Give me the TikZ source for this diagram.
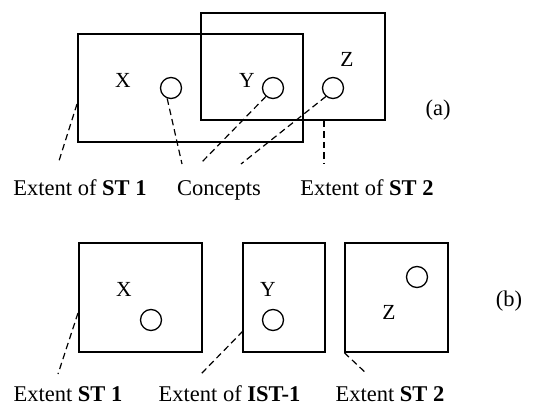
\documentclass[tikz,border=0pt]{standalone}
\usepackage{fontspec}
\setmainfont{Liberation Serif}
\begin{document}
\begin{tikzpicture}[x=1pt,y=-1pt,
  box/.style={draw,line width=1.4pt,inner sep=0pt},
  conc/.style={draw,circle,line width=1.3pt,minimum size=21pt,inner sep=0pt},
  lett/.style={font=\fontsize{21.5}{24}\selectfont,inner sep=0pt},
  lab/.style={font=\fontsize{22.5}{26}\selectfont,anchor=base,inner sep=0pt},
  dsh/.style={line width=1.2pt,dash pattern=on 6.5pt off 4pt}]
\useasboundingbox (0,0) rectangle (551,406);
% ---- (a) ----
\node[box,minimum width=225pt,minimum height=108pt] (st1) at (190.5,88) {};
\node[box,minimum width=184pt,minimum height=107pt] (st2) at (293,66.5) {};
\node[lett] (xa) at (123,80) {X};
\node[lett] (ya) at (247,80) {Y};
\node[lett] (za) at (347,59) {Z};
\node[conc] (cxa) at (171,88) {};
\node[conc] (cya) at (273,88) {};
\node[conc] (cza) at (333,88) {};
\node[lab] (pa) at (438,116) {(a)};
\node[lab] (l1) at (80,195) {Extent of \textbf{ST 1}};
\node[lab] (l2) at (219,195) {Concepts};
\node[lab] (l3) at (367,195) {Extent of \textbf{ST 2}};
\coordinate (e1) at (58,164);
\coordinate (e2) at (182,164);
\coordinate (e3) at (200,164);
\coordinate (e4) at (241,164);
\coordinate (e5) at (324,164);
\coordinate (s1) at (77,104);
\coordinate (s5) at (324,121);
\draw[dsh] (s1) -- (e1);
\draw[dsh] (cxa.-110) -- (e2);
\draw[dsh] (cya.-130) -- (e3);
\draw[dsh] (cza.-130) -- (e4);
\draw[dsh] (s5) -- (e5);
% ---- (b) ----
\node[box,minimum width=123pt,minimum height=109pt] (bst1) at (140.5,297.5) {};
\node[box,minimum width=82pt,minimum height=109pt] (bist) at (284,297.5) {};
\node[box,minimum width=103pt,minimum height=109pt] (bst2) at (396.5,297.5) {};
\node[lett] (xb) at (124,289) {X};
\node[lett] (yb) at (268,289) {Y};
\node[lett] (zb) at (389,312) {Z};
\node[conc] (cxb) at (151,320) {};
\node[conc] (cyb) at (273,320) {};
\node[conc] (czb) at (417,277) {};
\node[lab] (pb) at (509,306) {(b)};
\node[lab] (m1) at (68,401) {Extent \textbf{ST 1}};
\node[lab] (m2) at (229.5,401) {Extent of \textbf{IST-1}};
\node[lab] (m3) at (390,401) {Extent \textbf{ST 2}};
\coordinate (f1) at (58,374);
\coordinate (f2) at (201,374);
\coordinate (f3) at (367,374);
\coordinate (t1) at (78,313);
\coordinate (t2) at (243,331);
\draw[dsh] (t1) -- (f1);
\draw[dsh] (t2) -- (f2);
\draw[dsh] (bst2.south west) -- (f3);
\end{tikzpicture}
\end{document}
